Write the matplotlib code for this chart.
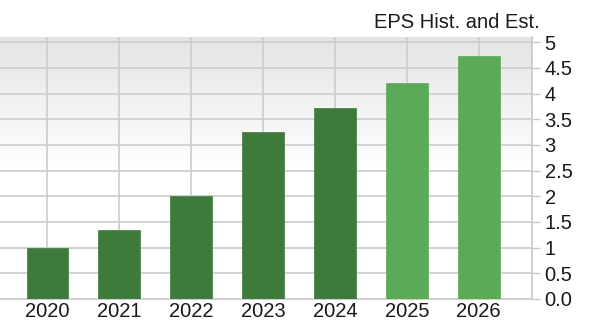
import numpy as np
import matplotlib.pyplot as plt
from matplotlib.colors import LinearSegmentedColormap

years = ['2020', '2021', '2022', '2023', '2024', '2025', '2026']
eps = [0.99, 1.35, 2.01, 3.25, 3.72, 4.20, 4.73]
is_estimate = [False, False, False, False, False, True, True]
yticks = [0, 0.5, 1, 1.5, 2, 2.5, 3, 3.5, 4, 4.5, 5]
ytick_labels = ['0.0', '0.5', '1', '1.5', '2', '2.5', '3', '3.5', '4', '4.5', '5']

plt.rcParams['font.family'] = ['Liberation Sans', 'DejaVu Sans']

fig = plt.figure(figsize=(6.02, 3.28), dpi=100)
ax = fig.add_axes([0, 1 - 299 / 328, 532 / 602, 262 / 328])

x = np.arange(len(years))
xmin, xmax = -0.66, len(years) - 1 + 0.74
ymin, ymax = 0, 5.10
ax.set_xlim(xmin, xmax)
ax.set_ylim(ymin, ymax)

# background: light grey at top fading to white
cmap = LinearSegmentedColormap.from_list('bg', ['#ffffff', '#ffffff', '#e4e4e4'])
grad = np.linspace(0, 1, 256).reshape(-1, 1)
ax.imshow(grad, aspect='auto', cmap=cmap, origin='lower',
          extent=[xmin, xmax, ymin, ymax], zorder=0)

ax.set_axisbelow(True)
ax.grid(True, color='#cfcfcf', linewidth=1.3)

colors = ['#5caa55' if e else '#3e7b3a' for e in is_estimate]
ax.bar(x, eps, width=0.58, color=colors, edgecolor=colors, linewidth=0.5, zorder=3)

ax.yaxis.tick_right()
ax.set_yticks(yticks)
ax.set_yticklabels(ytick_labels)
ax.set_xticks(x)
ax.set_xticklabels(years)
ax.tick_params(axis='y', length=6, width=1, color='#c8c8c8', pad=3,
               labelsize=14.5, labelcolor='#1a1a1a')
ax.tick_params(axis='x', length=0, pad=2, labelsize=14.5, labelcolor='#1a1a1a')

for s in ['top', 'left']:
    ax.spines[s].set_visible(False)
ax.spines['right'].set_color('#c8c8c8')
ax.spines['bottom'].set_color('#d0d0d0')
ax.spines['right'].set_linewidth(1.2)

fig.text(540 / 602, 1 - 28 / 328, 'EPS Hist. and Est.', ha='right', va='baseline',
         fontsize=14.5, color='#1a1a1a')

fig.savefig('out.png', dpi=100)
